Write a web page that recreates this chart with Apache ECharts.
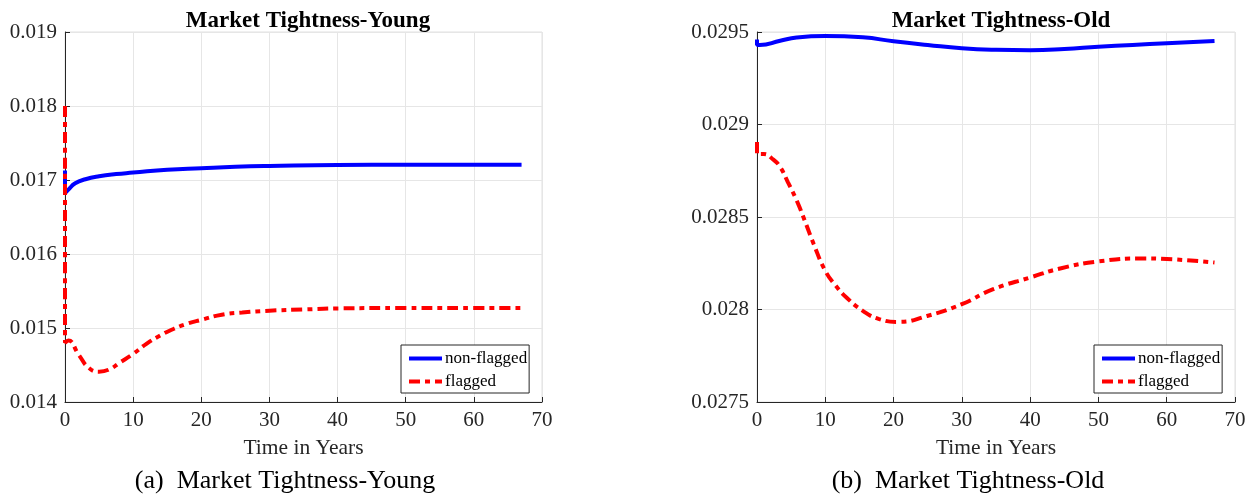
<!DOCTYPE html>
<html><head><meta charset="utf-8">
<script src="https://cdn.jsdelivr.net/npm/echarts@6/dist/echarts.min.js"></script>
<style>html,body{margin:0;padding:0;background:#fff}#c{width:1256px;height:498px}</style>
</head><body><div id="c"></div>
<script>
// ---- Data ----
var xTicks = [0, 10, 20, 30, 40, 50, 60, 70];
var youngTicks = [0.014, 0.015, 0.016, 0.017, 0.018, 0.019];
var oldTicks = [0.0275, 0.028, 0.0285, 0.029, 0.0295];

var youngNonT = [0, 0, 0.5, 1.5, 3, 5, 7.5, 10, 15, 20, 25, 30, 40, 50, 60, 67];
var youngNonV = [0.01713, 0.01682, 0.01687, 0.016955, 0.01701, 0.01705, 0.01708, 0.01710, 0.01714, 0.01716, 0.017178, 0.017189, 0.017203, 0.017205, 0.017205, 0.017205];

var youngFlagT = [0, 0, 0.5, 2, 3.5, 5, 6.5, 8, 10, 12, 14, 16, 18, 20, 23, 26, 30, 35, 40, 50, 60, 67];
var youngFlagV = [0.0180, 0.01480, 0.01483, 0.01464, 0.01446, 0.01441, 0.01444, 0.01453, 0.01465, 0.01479, 0.01490, 0.01499, 0.01506, 0.01511, 0.01518, 0.01521, 0.015234, 0.01525, 0.015265, 0.01527, 0.01527, 0.01527];

var oldNonT = [0, 0, 0.4, 3.4, 5.8, 10, 15.5, 20, 25, 30, 35, 40, 45, 50, 55, 60, 67];
var oldNonV = [0.02946, 0.02943, 0.02943, 0.029453, 0.02947, 0.029478, 0.029471, 0.02945, 0.02943, 0.029412, 0.029404, 0.029402, 0.029408, 0.02942, 0.02943, 0.029439, 0.029451];

var oldFlagT = [0, 0, 1, 2.4, 3.4, 4.5, 5.8, 7, 8.3, 10, 11.5, 13.1, 15.5, 17.9, 20.7, 24.9, 30, 34.6, 40, 44.4, 50, 56.6, 60, 67];
var oldFlagV = [0.028905, 0.02884, 0.02884, 0.02881, 0.02877, 0.02869, 0.02859, 0.02848, 0.028354, 0.028209, 0.02813, 0.028065, 0.027993, 0.027948, 0.027933, 0.027965, 0.028029, 0.02811, 0.028173, 0.028222, 0.02826, 0.028276, 0.028273, 0.028254];

var seriesNames = ['non-flagged', 'flagged'];
var panelTitles = ['Market Tightness-Young', 'Market Tightness-Old'];
var captions = ['(a)  Market Tightness-Young', '(b)  Market Tightness-Old'];
var xName = 'Time in Years';

function pairs(t, v) { return t.map(function (x, i) { return [x, v[i]]; }); }

var FONT = '"Liberation Serif", "DejaVu Serif", serif';
var chart = echarts.init(document.getElementById('c'));

function xAxis(gi) {
  return {
    type: 'value', gridIndex: gi, min: xTicks[0], max: xTicks[xTicks.length - 1], interval: 10,
    name: xName, nameLocation: 'middle', nameGap: 35,
    nameTextStyle: { fontFamily: FONT, fontSize: 21.5, color: '#262626' },
    axisLine: { show: true, onZero: false, lineStyle: { color: '#262626', width: 1 } },
    axisTick: { show: true, inside: true, length: 5, lineStyle: { color: '#262626' } },
    axisLabel: { fontFamily: FONT, fontSize: 21, color: '#262626', margin: 8 },
    splitLine: { show: true, lineStyle: { color: '#e6e6e6', width: 1 } }
  };
}
function yAxis(gi, ticks, dec) {
  return {
    type: 'value', gridIndex: gi, min: ticks[0], max: ticks[ticks.length - 1],
    interval: ticks[1] - ticks[0],
    axisLine: { show: true, onZero: false, lineStyle: { color: '#262626', width: 1 } },
    axisTick: { show: true, inside: true, length: 5, lineStyle: { color: '#262626' } },
    axisLabel: { fontFamily: FONT, fontSize: 21, color: '#262626', margin: 8,
      formatter: function (v) { return String(+v.toFixed(dec)); } },
    splitLine: { show: true, lineStyle: { color: '#e6e6e6', width: 1 } }
  };
}
function line(name, gi, t, v, dashed) {
  return {
    name: name, type: 'line', xAxisIndex: gi, yAxisIndex: gi,
    data: pairs(t, v), showSymbol: false, symbol: 'none',
    smooth: 0.5,
    lineStyle: dashed ? { color: '#ff0000', width: 4, type: [11, 5, 5, 5] } : { color: '#0000ff', width: 4 },
    itemStyle: { color: dashed ? '#ff0000' : '#0000ff' },
    z: dashed ? 3 : 2
  };
}
function legend(left) {
  return {
    data: seriesNames, orient: 'vertical', left: left, top: 345,
    backgroundColor: '#fff', borderColor: '#262626', borderWidth: 1,
    padding: [4, 2, 2, 6], itemWidth: 33, itemHeight: 14, itemGap: 4,
    itemStyle: { opacity: 0 },
    lineStyle: { width: 4 },
    textStyle: { fontFamily: FONT, fontSize: 17, color: '#000', lineHeight: 19, padding: [0, 0, 0, -2] },
    selectedMode: false
  };
}

chart.setOption({
  animation: false,
  title: [
    { text: panelTitles[0], left: 303, textAlign: 'center', top: 5, textStyle: { fontFamily: FONT, fontSize: 23, fontWeight: 'bold', color: '#000' } },
    { text: panelTitles[1], left: 996, textAlign: 'center', top: 5, textStyle: { fontFamily: FONT, fontSize: 23, fontWeight: 'bold', color: '#000' } },
    { text: captions[0], left: 280, textAlign: 'center', top: 463, textStyle: { fontFamily: FONT, fontSize: 26, fontWeight: 'normal', color: '#000' } },
    { text: captions[1], left: 963, textAlign: 'center', top: 463, textStyle: { fontFamily: FONT, fontSize: 26, fontWeight: 'normal', color: '#000' } }
  ],
  grid: [
    { left: 65, right: 714, top: 32, bottom: 96, show: true, borderColor: '#e0e0e0', borderWidth: 1, containLabel: false },
    { left: 757, right: 21, top: 32, bottom: 96, show: true, borderColor: '#e0e0e0', borderWidth: 1, containLabel: false }
  ],
  xAxis: [xAxis(0), xAxis(1)],
  yAxis: [yAxis(0, youngTicks, 3), yAxis(1, oldTicks, 4)],
  legend: [legend(401), legend(1094)],
  series: [
    line(seriesNames[0], 0, youngNonT, youngNonV, false),
    line(seriesNames[1], 0, youngFlagT, youngFlagV, true),
    line(seriesNames[0], 1, oldNonT, oldNonV, false),
    line(seriesNames[1], 1, oldFlagT, oldFlagV, true)
  ]
});
</script></body></html>
